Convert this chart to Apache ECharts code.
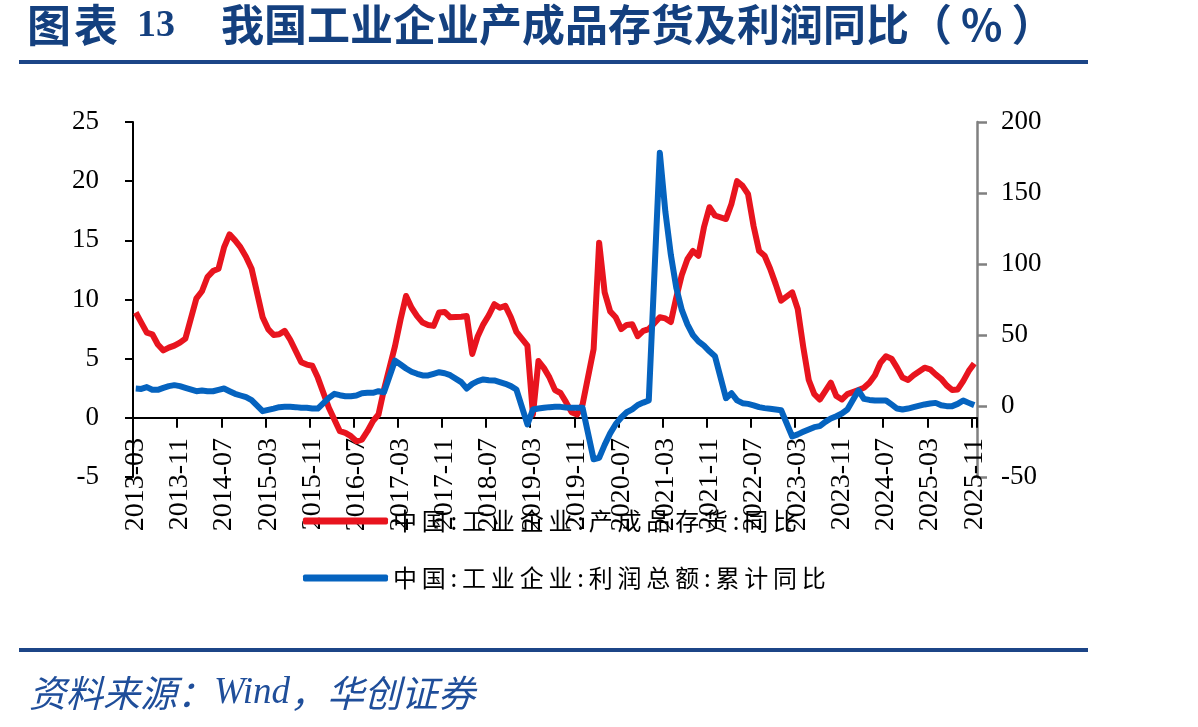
<!DOCTYPE html>
<html>
<head>
<meta charset="utf-8">
<title>我国工业企业产成品存货及利润同比</title>
<script src="https://cdn.jsdelivr.net/npm/echarts@6/dist/echarts.min.js"></script>
<style>
  html, body { margin: 0; padding: 0; background: #fff; }
  #chart_inventory { width: 1198px; height: 727px; }
</style>
</head>
<body>
<div id="chart_inventory"></div>
<script>
// 月度类目：2013-03 ~ 2025-11
const months = []
for (let k = 0; k < 153; k++) {
  const t = 2013 * 12 + 2 + k
  months.push(Math.floor(t / 12) + '-' + String(t % 12 + 1).padStart(2, '0'))
}

const seriesNames = ['中国:工业企业:产成品存货:同比', '中国:工业企业:利润总额:累计同比']

// 产成品存货同比（左轴，%），1月无数据
const inventoryYoy = [
  8.9, 8.05, 7.2, 7.06, 6.2, 5.7, 5.93, 6.1, 6.36, 6.7, // 2013
  null, 10.1, 10.7, 11.9, 12.4, 12.6, 14.4, 15.5, 15.0, 14.4, 13.6, 12.6, // 2014
  null, 8.5, 7.5, 7.0, 7.06, 7.35, 6.6, 5.65, 4.7, 4.5, 4.4, 3.4, // 2015
  null, 0.85, -0.14, -1.13, -1.27, -1.55, -1.98, -1.84, -1.13, -0.28, 0.28, 2.4, // 2016
  null, 6.07, 8.3, 10.3, 9.3, 8.6, 8.05, 7.85, 7.77, 8.9, 8.95, 8.5, // 2017
  null, 8.55, 8.6, 5.4, 6.9, 7.9, 8.67, 9.6, 9.3, 9.46, 8.5, 7.26, // 2018
  null, 6.1, 0.28, 4.8, 4.2, 3.4, 2.35, 2.1, 1.33, 0.48, 0.28, 1.13, // 2019
  null, 5.8, 14.8, 10.6, 9.0, 8.5, 7.5, 7.85, 7.9, 6.9, 7.35, 7.5, // 2020
  null, 8.5, 8.4, 8.1, 10.2, 12.1, 13.4, 14.1, 13.7, 16.1, 17.8, 17.1, // 2021
  null, 16.8, 18.1, 20.0, 19.6, 18.9, 16.2, 14.1, 13.7, 12.6, 11.3, 9.9, // 2022
  null, 10.6, 9.2, 6.0, 3.2, 2.0, 1.55, 2.26, 2.97, 1.84, 1.55, 2.0, // 2023
  null, 2.35, 2.54, 2.97, 3.6, 4.66, 5.2, 5.0, 4.24, 3.4, 3.2, 3.6, // 2024
  null, 4.24, 4.1, 3.67, 3.3, 2.74, 2.35, 2.4, 3.1, 3.95, 4.6 // 2025
]

// 利润总额累计同比（右轴，%），1月无数据
const profitYoy = [
  12.3, 12.0, 13.3, 11.4, 11.4, 12.8, 14.0, 14.7, 14.0, 12.8, // 2013
  null, 10.4, 10.9, 10.4, 10.4, 11.4, 12.3, 10.4, 8.6, 7.4, 6.2, 4.1, // 2014
  null, -3.6, -2.7, -1.8, -0.8, -0.6, -0.6, -0.8, -1.3, -1.3, -1.8, -1.8, // 2015
  null, 5.7, 8.6, 7.6, 6.9, 6.9, 7.4, 9.0, 9.3, 9.3, 10.4, 9.7, // 2016
  null, 32.0, 29.2, 26.4, 24.1, 22.7, 21.5, 21.5, 22.7, 23.8, 23.1, 21.7, // 2017
  null, 16.8, 12.3, 15.6, 17.5, 18.7, 18.2, 18.0, 16.8, 15.6, 14.0, 11.6, // 2018
  null, -13.0, -2.5, -1.8, -1.3, -0.8, -0.6, -0.6, -1.1, -1.3, -1.3, -1.3, // 2019
  null, -37.5, -36.5, -27.4, -19.3, -12.8, -8.1, -4.4, -2.4, 0.7, 2.4, 3.9, // 2020
  null, 178.3, 137.0, 106.5, 83.0, 67.5, 57.5, 50.0, 45.5, 42.5, 38.5, 35.0, // 2021
  null, 5.5, 9.0, 4.0, 2.0, 1.5, 0.5, -0.8, -1.5, -2.0, -2.5, -3.0, // 2022
  null, -21.5, -20.0, -18.2, -16.5, -14.9, -14.2, -11.2, -8.8, -7.2, -5.3, -2.5, // 2023
  null, 11.0, 5.0, 4.3, 3.9, 3.9, 3.9, 1.1, -1.8, -2.5, -1.8, -0.8, // 2024
  null, 1.1, 1.8, 2.2, 0.5, -0.1, -0.1, 1.5, 3.9, 2.2, 0.6 // 2025
]

const chartId = 'chart_inventory'
let myChart = null

const serif = '"Times New Roman", "Liberation Serif", serif'
const cjk = '"Noto Sans CJK SC", sans-serif'
const navy = '#14407F'

function initChart() {
  const dom = document.getElementById(chartId)
  if (!dom) return

  if (!myChart) {
    myChart = echarts.init(dom)
  }

  myChart.setOption({
    animation: false,
    backgroundColor: '#fff',
    grid: { left: 133, right: 221, top: 122, bottom: 250 },
    legend: {
      orient: 'vertical',
      left: 298,
      top: 504,
      icon: 'roundRect',
      itemWidth: 85,
      itemHeight: 7,
      itemGap: 33,
      data: seriesNames,
      // 图例文字略带字距
      formatter: name => name.split('').join('\u2009'),
      textStyle: { fontSize: 24, color: '#000', fontFamily: cjk }
    },
    xAxis: {
      type: 'category',
      data: months,
      boundaryGap: true,
      axisLine: { onZero: true, onZeroAxisIndex: 0, lineStyle: { color: '#000', width: 2 } },
      axisTick: { show: true, interval: 7, length: 10, lineStyle: { color: '#000', width: 2 } },
      axisLabel: {
        interval: 7,
        rotate: 90,
        // 标签贴着 0 轴而不是网格底边
        margin: -39,
        fontSize: 28,
        fontFamily: serif,
        color: '#000'
      },
      splitLine: { show: false }
    },
    yAxis: [
      {
        type: 'value',
        position: 'left',
        min: -5,
        max: 25,
        interval: 5,
        axisLine: { show: true, lineStyle: { color: '#000', width: 2 } },
        axisTick: { show: true, length: 8, lineStyle: { color: '#000', width: 2 } },
        axisLabel: { margin: 34, fontSize: 27, fontFamily: serif, color: '#000' },
        splitLine: { show: false }
      },
      {
        type: 'value',
        position: 'right',
        min: -50,
        max: 200,
        interval: 50,
        axisLine: { show: true, lineStyle: { color: '#808080', width: 2.5 } },
        axisTick: { show: true, length: 10, lineStyle: { color: '#808080', width: 2.5 } },
        axisLabel: { margin: 24, fontSize: 27, fontFamily: serif, color: '#000' },
        splitLine: { show: false }
      }
    ],
    series: [
      {
        name: seriesNames[0],
        type: 'line',
        yAxisIndex: 0,
        data: inventoryYoy,
        symbol: 'none',
        connectNulls: true,
        itemStyle: { color: '#E8141E' },
        lineStyle: { color: '#E8141E', width: 6, join: 'round' }
      },
      {
        name: seriesNames[1],
        type: 'line',
        yAxisIndex: 1,
        data: profitYoy,
        symbol: 'none',
        connectNulls: true,
        itemStyle: { color: '#0563BF' },
        lineStyle: { color: '#0563BF', width: 6, join: 'round' }
      }
    ],
    graphic: [
      {
        type: 'text', x: 27, y: 25,
        style: {
          text: '{g|图}{b|表}',
          verticalAlign: 'middle',
          rich: {
            g: { font: `bold 44px ${cjk}`, fill: navy, padding: [0, 3, 0, 0] },
            b: { font: `bold 44px ${cjk}`, fill: navy }
          }
        }
      },
      {
        type: 'text', x: 137, y: 26,
        style: { text: '13', font: `bold 38px ${serif}`, fill: navy, verticalAlign: 'middle' }
      },
      {
        type: 'text', x: 221, y: 25,
        style: {
          text: '{a|我国工业企业产成品存货及利润同比（}{p|%}{a|）}',
          verticalAlign: 'middle',
          rich: {
            a: { font: `bold 43px ${cjk}`, fill: navy },
            p: { font: `bold 43px ${cjk}`, fill: navy, padding: [0, 9, 0, 9] }
          }
        }
      },
      { type: 'rect', shape: { x: 19, y: 60, width: 1069, height: 4 }, style: { fill: '#1C4587' } },
      { type: 'rect', shape: { x: 19, y: 648, width: 1069, height: 4 }, style: { fill: '#1C4587' } },
      {
        type: 'text', x: 29, y: 693,
        style: {
          text: '{c|资料来源：}{w|Wind}{c|，华创证券}',
          verticalAlign: 'middle',
          rich: {
            c: { font: `italic 37px ${cjk}`, fill: '#1F4E9A' },
            w: { font: `italic 37px ${serif}`, fill: '#1F4E9A' }
          }
        }
      }
    ]
  })
}

initChart()
</script>
</body>
</html>
